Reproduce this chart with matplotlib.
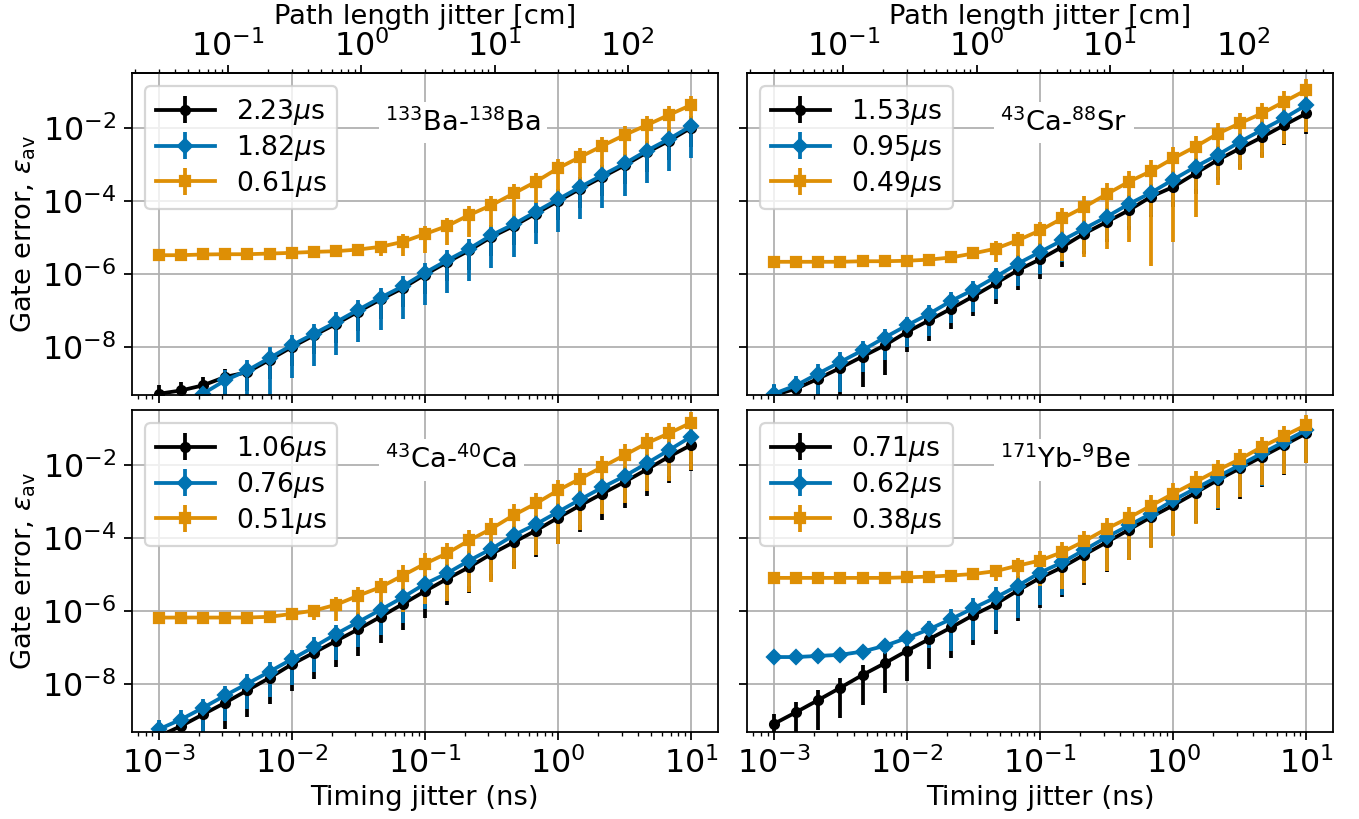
"""
Gate error vs timing jitter for four ion-species pairs, 2x2 grid.
"""

import matplotlib
matplotlib.use('Agg')
import matplotlib.pyplot as plt
from matplotlib.ticker import NullLocator
import numpy as np

# timing jitter grid (ns), 6 points per decade
TIMING_JITTER = [1.00e-3, 1.47e-3, 2.15e-3, 3.16e-3, 4.64e-3, 6.81e-3,
                 1.00e-2, 1.47e-2, 2.15e-2, 3.16e-2, 4.64e-2, 6.81e-2,
                 1.00e-1, 1.47e-1, 2.15e-1, 3.16e-1, 4.64e-1, 6.81e-1,
                 1.00e0, 1.47e0, 2.15e0, 3.16e0, 4.64e0, 6.81e0, 1.00e1]

# 133Ba-138Ba
BA_TIMES = ['2.23', '1.82', '0.61']
BA_BLACK = [5.37e-10, 6.61e-10, 9.12e-10, 1.55e-9, 2.09e-9, 4.57e-9, 1.02e-8, 2.14e-8,
            4.37e-8, 9.55e-8, 2.04e-7, 4.17e-7, 9.77e-7, 2.14e-6, 4.47e-6, 1.05e-5,
            2.09e-5, 4.57e-5, 1.00e-4, 2.19e-4, 4.57e-4, 9.55e-4, 2.14e-3, 4.47e-3, 1.02e-2]
BA_BLUE = [1.12e-10, 2.51e-10, 5.37e-10, 1.25e-9, 2.34e-9, 5.13e-9, 1.14e-8, 2.37e-8,
           4.90e-8, 1.07e-7, 2.29e-7, 4.68e-7, 1.10e-6, 2.40e-6, 5.01e-6, 1.17e-5,
           2.34e-5, 5.13e-5, 1.12e-4, 2.45e-4, 5.13e-4, 1.07e-3, 2.40e-3, 5.01e-3, 1.14e-2]
BA_ORANGE = [3.32e-6, 3.32e-6, 3.47e-6, 3.53e-6, 3.53e-6, 3.68e-6, 3.85e-6, 4.09e-6,
             4.27e-6, 4.74e-6, 5.62e-6, 7.69e-6, 1.26e-5, 2.09e-5, 4.17e-5, 7.76e-5,
             1.62e-4, 3.39e-4, 7.94e-4, 1.62e-3, 3.24e-3, 6.46e-3, 1.20e-2, 2.29e-2, 4.27e-2]
# relative error bars (yerr / y)
BA_BLACK_REL = [0.7] * 25
BA_BLUE_REL = [0.95] * 6 + [0.87] * 19
BA_ORANGE_REL = [0.08, 0.08, 0.08, 0.08, 0.1, 0.1, 0.15, 0.2, 0.25, 0.35, 0.45, 0.6,
                 0.7, 0.7, 0.745, 0.745, 0.77, 0.745, 0.77, 0.77, 0.77, 0.745, 0.745,
                 0.77, 0.8]

# 43Ca-88Sr
CASR_TIMES = ['1.53', '0.95', '0.49']
CASR_BLACK = [4.90e-10, 7.41e-10, 1.38e-9, 2.75e-9, 5.62e-9, 1.14e-8, 2.63e-8, 5.50e-8,
              1.15e-7, 2.51e-7, 5.62e-7, 1.29e-6, 2.57e-6, 5.62e-6, 1.30e-5, 2.69e-5,
              5.62e-5, 1.32e-4, 2.45e-4, 5.75e-4, 1.32e-3, 2.75e-3, 5.62e-3, 1.20e-2, 2.51e-2]
CASR_BLUE = [5.37e-10, 9.12e-10, 1.91e-9, 3.98e-9, 8.32e-9, 1.86e-8, 3.98e-8, 8.32e-8,
             1.86e-7, 3.80e-7, 8.51e-7, 1.95e-6, 4.07e-6, 8.51e-6, 1.78e-5, 3.72e-5,
             8.32e-5, 1.70e-4, 3.89e-4, 8.71e-4, 1.82e-3, 4.17e-3, 8.91e-3, 1.86e-2, 4.27e-2]
CASR_ORANGE = [2.19e-6, 2.19e-6, 2.19e-6, 2.19e-6, 2.27e-6, 2.27e-6, 2.34e-6, 2.51e-6,
               2.88e-6, 3.72e-6, 5.01e-6, 8.51e-6, 1.58e-5, 3.39e-5, 6.92e-5, 1.55e-4,
               3.39e-4, 6.61e-4, 1.48e-3, 3.09e-3, 6.92e-3, 1.35e-2, 2.51e-2, 5.25e-2, 1.10e-1]
CASR_BLACK_REL = [0.85] * 6 + [0.72] * 19
CASR_BLUE_REL = [0.85] * 4 + [0.75] * 21
CASR_ORANGE_REL = [0.05] * 6 + [0.1, 0.15, 0.2, 0.3, 0.57, 0.65, 0.65, 0.93, 0.957,
                                0.968, 0.977, 0.9975, 0.995, 0.988, 0.96, 0.947, 0.94,
                                0.93, 0.93]

# 43Ca-40Ca
CACA_TIMES = ['1.06', '0.76', '0.51']
CACA_BLACK = [3.80e-10, 7.24e-10, 1.51e-9, 3.16e-9, 6.92e-9, 1.51e-8, 3.55e-8, 7.41e-8,
              1.55e-7, 3.24e-7, 7.08e-7, 1.58e-6, 3.55e-6, 7.76e-6, 1.62e-5, 3.72e-5,
              7.76e-5, 1.62e-4, 3.63e-4, 7.94e-4, 1.66e-3, 3.47e-3, 7.59e-3, 1.70e-2, 3.55e-2]
CACA_BLUE = [5.89e-10, 1.10e-9, 2.29e-9, 5.01e-9, 1.05e-8, 2.24e-8, 4.90e-8, 1.07e-7,
             2.40e-7, 5.13e-7, 1.10e-6, 2.40e-6, 5.62e-6, 1.10e-5, 2.45e-5, 5.13e-5,
             1.20e-4, 2.40e-4, 5.25e-4, 1.15e-3, 2.45e-3, 5.01e-3, 1.12e-2, 2.57e-2, 6.03e-2]
CACA_ORANGE = [6.76e-7, 6.76e-7, 6.76e-7, 6.76e-7, 6.76e-7, 7.08e-7, 8.51e-7, 1.05e-6,
               1.51e-6, 2.69e-6, 4.57e-6, 9.55e-6, 2.00e-5, 3.89e-5, 8.71e-5, 1.82e-4,
               4.27e-4, 8.91e-4, 2.04e-3, 4.27e-3, 8.91e-3, 1.88e-2, 3.98e-2, 7.41e-2, 1.45e-1]
CACA_BLACK_REL = [0.81] * 25
CACA_BLUE_REL = [0.8] * 25
CACA_ORANGE_REL = [0.05] * 5 + [0.08, 0.2, 0.45, 0.65, 0.7, 0.8, 0.9, 0.92,
                                0.95, 0.96, 0.966, 0.966, 0.96, 0.966, 0.96, 0.95,
                                0.95, 0.95, 0.95, 0.95]

# 171Yb-9Be
YBBE_TIMES = ['0.71', '0.62', '0.38']
YBBE_BLACK = [8.32e-10, 1.74e-9, 3.72e-9, 8.13e-9, 1.82e-8, 3.80e-8, 8.32e-8, 1.74e-7,
              3.63e-7, 7.94e-7, 1.58e-6, 3.72e-6, 8.22e-6, 1.62e-5, 3.55e-5, 7.76e-5,
              1.70e-4, 3.80e-4, 7.94e-4, 1.74e-3, 3.89e-3, 8.13e-3, 1.70e-2, 3.55e-2, 7.41e-2]
YBBE_BLUE = [5.62e-8, 5.62e-8, 6.03e-8, 6.46e-8, 7.94e-8, 1.14e-7, 1.86e-7, 3.24e-7,
             6.17e-7, 1.23e-6, 2.40e-6, 5.01e-6, 1.15e-5, 2.19e-5, 4.79e-5, 1.07e-4,
             2.24e-4, 4.68e-4, 1.10e-3, 2.29e-3, 4.79e-3, 1.00e-2, 2.09e-2, 4.37e-2, 9.12e-2]
YBBE_ORANGE = [8.22e-6, 8.22e-6, 8.22e-6, 8.22e-6, 8.22e-6, 8.22e-6, 8.51e-6, 8.91e-6,
               9.55e-6, 1.05e-5, 1.26e-5, 1.78e-5, 2.45e-5, 4.17e-5, 8.32e-5, 1.82e-4,
               3.63e-4, 7.76e-4, 1.66e-3, 3.47e-3, 7.24e-3, 1.45e-2, 3.16e-2, 6.31e-2, 1.26e-1]
YBBE_BLACK_REL = [0.85] * 25
YBBE_BLUE_REL = [0.05] * 5 + [0.3, 0.5, 0.7] + [0.87] * 17
YBBE_ORANGE_REL = [0.03] * 9 + [0.3, 0.45, 0.6, 0.8, 0.9] + [0.93] * 6 + [0.91] * 5

PANELS = [
    (r'$^{133}$Ba-$^{138}$Ba', BA_TIMES, BA_BLACK, BA_BLUE, BA_ORANGE,
     BA_BLACK_REL, BA_BLUE_REL, BA_ORANGE_REL),
    (r'$^{43}$Ca-$^{88}$Sr', CASR_TIMES, CASR_BLACK, CASR_BLUE, CASR_ORANGE,
     CASR_BLACK_REL, CASR_BLUE_REL, CASR_ORANGE_REL),
    (r'$^{43}$Ca-$^{40}$Ca', CACA_TIMES, CACA_BLACK, CACA_BLUE, CACA_ORANGE,
     CACA_BLACK_REL, CACA_BLUE_REL, CACA_ORANGE_REL),
    (r'$^{171}$Yb-$^{9}$Be', YBBE_TIMES, YBBE_BLACK, YBBE_BLUE, YBBE_ORANGE,
     YBBE_BLACK_REL, YBBE_BLUE_REL, YBBE_ORANGE_REL),
]

PATH_TICKS_CM = [0.1, 1, 10, 100]

COLORS = ['black', '#0173b2', '#de8f05']
MARKERS = ['o', 'D', 's']
MSIZES = [4, 4.5, 4.5]

C_CM_PER_NS = 30.0


def ns_to_cm(x):
    return x * C_CM_PER_NS


def cm_to_ns(x):
    return x / C_CM_PER_NS


def draw_panel(ax, panel):
    """Draw the three error-bar series of one ion pair."""
    title, times, black, blue, orange, black_rel, blue_rel, orange_rel = panel
    x = np.array(TIMING_JITTER)
    series = [(black, black_rel), (blue, blue_rel), (orange, orange_rel)]
    for k, (vals, rel) in enumerate(series):
        y = np.array(vals)
        yerr = np.array(rel) * y
        ax.errorbar(x, y, yerr=yerr, fmt='-' + MARKERS[k], color=COLORS[k],
                    ms=MSIZES[k], lw=1.7, elinewidth=1.7, capsize=0,
                    label=times[k] + r'$\mu$s')
    ax.legend(loc='upper left', fontsize=12, handlelength=2.2,
              borderaxespad=0.5, labelspacing=0.22)
    ax.text(0.432, 0.82, title, transform=ax.transAxes, ha='left',
            va='baseline', fontsize=12.3,
            bbox=dict(facecolor='white', edgecolor='none', pad=3))
    ax.grid(True, which='major', color='#b0b0b0', lw=0.8)


def main():
    plt.rcParams['font.size'] = 12.3
    plt.rcParams['xtick.labelsize'] = 14.3
    plt.rcParams['ytick.labelsize'] = 14.3
    fig, axes = plt.subplots(2, 2, sharex=True, sharey=True,
                             figsize=(1359 / 160, 819 / 160))
    fig.subplots_adjust(left=0.0971, right=0.9809, top=0.9109, bottom=0.1062,
                        hspace=0.047, wspace=0.05)

    for ax, panel in zip(axes.flat, PANELS):
        ax.set_xscale('log')
        ax.set_yscale('log')
        draw_panel(ax, panel)

    ax0 = axes[0, 0]
    ax0.set_ylim(5e-10, 0.32)
    ax0.set_yticks([1e-8, 1e-6, 1e-4, 1e-2])
    ax0.yaxis.set_minor_locator(NullLocator())

    for ax in axes[0]:
        sec = ax.secondary_xaxis('top', functions=(ns_to_cm, cm_to_ns))
        sec.set_xticks(PATH_TICKS_CM)
        sec.set_xlabel('Path length jitter [cm]', labelpad=3)
        sec.tick_params(pad=1)
    for ax in axes[1]:
        ax.set_xlabel('Timing jitter (ns)', labelpad=2)
    for ax in axes[:, 0]:
        ax.set_ylabel(r'Gate error, $\varepsilon_{\rm av}$', labelpad=2)

    fig.savefig('out.png', dpi=160)
    plt.close(fig)


if __name__ == "__main__":
    main()
